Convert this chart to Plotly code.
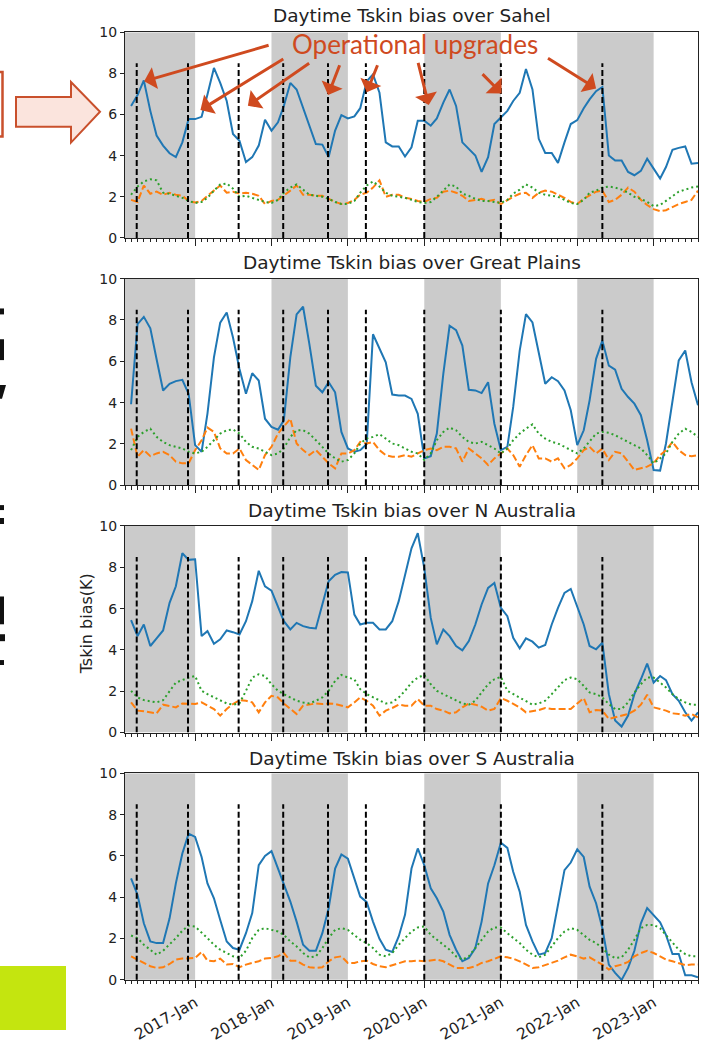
import plotly.graph_objects as go
import pandas as pd

# ---------------- data ----------------
dates = pd.date_range("2016-03-01", periods=90, freq="MS")
regions = ["Sahel", "Great Plains", "N Australia", "S Australia"]

sahel_blue = [6.42, 6.95, 7.66, 6.18, 4.98, 4.49, 4.12, 3.93, 4.65, 5.78,
              5.78, 5.89, 6.98, 8.27, 7.54, 6.66, 5.06, 4.73, 3.69, 3.93,
              4.49, 5.75, 5.22, 5.62, 6.42, 7.54, 7.22, 6.34, 5.46, 4.57,
              4.54, 3.93, 5.22, 5.97, 5.81, 5.91, 6.31, 7.62, 7.95, 7.06,
              4.65, 4.45, 4.45, 3.96, 4.41, 5.70, 5.70, 5.46, 5.81, 6.58,
              7.22, 6.42, 4.65, 4.33, 4.01, 3.21, 3.93, 5.54, 5.86, 6.18,
              6.66, 7.06, 8.22, 7.22, 4.82, 4.13, 4.13, 3.65, 4.65, 5.54,
              5.73, 6.31, 6.74, 7.14, 7.34, 4.01, 3.76, 3.76, 3.21, 3.05,
              3.26, 3.85, 3.37, 2.89, 3.45, 4.29, 4.38, 4.45, 3.61, 3.65]
sahel_orange = [1.85, 1.75, 2.55, 2.15, 2.25, 2.10, 2.20, 2.10, 2.05, 1.80,
                1.72, 1.80, 2.05, 2.30, 2.55, 2.20, 2.25, 2.15, 2.20, 2.15,
                2.05, 1.65, 1.80, 1.85, 2.05, 2.30, 2.55, 2.10, 2.10, 2.05,
                2.05, 1.90, 1.75, 1.65, 1.70, 1.85, 2.10, 2.20, 2.45, 2.80,
                2.00, 2.10, 2.10, 1.95, 1.90, 1.80, 1.75, 1.90, 1.95, 2.25,
                2.30, 2.20, 2.05, 1.80, 1.85, 1.90, 1.80, 1.85, 1.65, 1.85,
                2.00, 2.15, 2.20, 1.95, 2.20, 2.30, 2.25, 2.10, 1.95, 1.75,
                1.65, 1.90, 2.05, 2.25, 2.30, 1.75, 1.85, 2.10, 2.45, 2.25,
                1.85, 1.60, 1.40, 1.30, 1.35, 1.50, 1.65, 1.75, 1.85, 2.30]
sahel_green = [2.10, 2.50, 2.75, 2.85, 2.80, 2.20, 2.15, 2.05, 1.95, 1.80,
               1.70, 1.75, 1.95, 2.30, 2.60, 2.65, 2.40, 2.00, 2.05, 1.95,
               1.85, 1.75, 1.70, 1.85, 2.20, 2.45, 2.60, 2.35, 2.10, 2.05,
               2.00, 1.90, 1.75, 1.65, 1.65, 1.80, 2.20, 2.55, 2.75, 2.50,
               2.20, 2.05, 2.00, 1.95, 1.85, 1.75, 1.70, 1.75, 2.00, 2.30,
               2.60, 2.50, 2.15, 2.05, 1.90, 1.80, 1.80, 1.75, 1.70, 1.85,
               2.15, 2.35, 2.60, 2.45, 2.20, 2.10, 2.05, 2.00, 1.85, 1.70,
               1.65, 1.85, 2.20, 2.30, 2.45, 2.50, 2.45, 2.35, 2.20, 2.00,
               1.90, 1.75, 1.55, 1.60, 1.80, 2.05, 2.25, 2.35, 2.45, 2.50]

gp_blue = [3.92, 7.80, 8.15, 7.60, 6.10, 4.59, 4.91, 5.04, 5.10, 4.43,
           1.94, 1.62, 3.47, 6.19, 7.87, 8.36, 7.15, 5.63, 4.43, 5.42,
           5.07, 3.22, 2.82, 2.69, 3.14, 6.20, 8.27, 8.64, 6.83, 4.82,
           4.50, 4.99, 4.50, 2.58, 1.78, 1.62, 1.70, 2.00, 7.31, 6.59,
           5.95, 4.39, 4.34, 4.34, 4.18, 3.46, 1.30, 1.41, 2.50, 5.39,
           7.72, 7.51, 6.76, 4.62, 4.59, 4.46, 4.99, 2.98, 1.70, 1.86,
           3.79, 6.52, 8.28, 7.88, 6.36, 4.91, 5.23, 5.04, 4.59, 3.63,
           1.94, 2.66, 4.11, 6.12, 7.00, 5.79, 5.59, 4.67, 4.27, 3.95,
           3.39, 2.18, 0.74, 0.71, 2.02, 4.11, 6.04, 6.52, 4.99, 3.87]
gp_orange = [2.74, 1.38, 1.70, 1.41, 1.54, 1.62, 1.46, 1.14, 1.06, 1.06,
             1.70, 2.18, 2.79, 2.58, 1.78, 1.54, 1.54, 1.78, 1.22, 0.98,
             0.74, 1.46, 1.86, 2.50, 2.82, 3.22, 2.02, 1.70, 1.46, 1.70,
             1.38, 1.06, 0.82, 1.54, 1.54, 1.70, 2.10, 2.02, 2.10, 1.70,
             1.46, 1.38, 1.38, 1.46, 1.38, 1.54, 1.70, 1.78, 1.70, 1.86,
             1.86, 1.78, 1.14, 1.78, 1.54, 1.30, 0.98, 1.30, 1.54, 1.78,
             1.46, 0.90, 1.46, 1.94, 1.30, 1.30, 1.14, 1.30, 0.82, 0.98,
             1.30, 1.70, 1.86, 1.54, 1.78, 1.22, 1.62, 1.54, 1.14, 0.74,
             0.82, 0.90, 1.06, 1.46, 1.70, 2.10, 1.70, 1.46, 1.41, 1.46]
gp_green = [1.70, 2.34, 2.58, 2.74, 2.34, 2.10, 1.94, 1.86, 1.78, 1.62,
            1.54, 1.62, 1.86, 2.18, 2.50, 2.66, 2.70, 2.50, 2.10, 1.86,
            1.78, 1.62, 1.46, 1.54, 1.78, 2.34, 2.66, 2.66, 2.50, 2.18,
            1.86, 1.54, 1.30, 1.14, 1.22, 1.54, 2.02, 2.26, 2.34, 2.47,
            2.26, 2.02, 1.94, 1.78, 1.62, 1.54, 1.22, 1.54, 2.18, 2.58,
            2.79, 2.66, 2.34, 2.10, 2.02, 2.10, 1.94, 1.78, 1.54, 1.78,
            2.18, 2.50, 2.74, 2.95, 2.50, 2.26, 2.10, 2.02, 1.86, 1.70,
            1.54, 1.78, 2.10, 2.50, 2.58, 2.54, 2.42, 2.26, 2.10, 1.94,
            1.78, 1.46, 1.06, 1.30, 1.54, 2.10, 2.50, 2.74, 2.58, 2.34]

na_blue = [5.44, 4.67, 5.23, 4.19, 4.56, 4.94, 6.28, 7.08, 8.68, 8.36,
           8.39, 4.67, 4.91, 4.30, 4.51, 4.94, 4.86, 4.75, 5.39, 6.36,
           7.83, 7.08, 6.87, 6.12, 5.39, 4.99, 5.31, 5.15, 5.07, 5.04,
           6.20, 7.32, 7.64, 7.77, 7.75, 5.71, 5.23, 5.31, 5.31, 4.99,
           4.99, 5.39, 6.36, 7.56, 8.92, 9.65, 7.96, 5.55, 4.27, 4.99,
           4.67, 4.19, 3.98, 4.43, 5.23, 6.20, 7.00, 7.24, 6.04, 5.63,
           4.59, 4.08, 4.56, 4.40, 4.11, 4.24, 5.23, 6.04, 6.76, 6.95,
           6.12, 5.23, 4.19, 4.03, 4.35, 1.86, 0.58, 0.29, 0.82, 1.86,
           2.58, 3.34, 2.42, 2.74, 2.54, 1.86, 1.54, 0.98, 0.58, 0.98]
na_orange = [1.46, 1.06, 1.03, 0.98, 0.93, 1.35, 1.30, 1.22, 1.41, 1.38,
             1.38, 1.46, 1.30, 1.14, 0.82, 1.14, 1.38, 1.57, 1.54, 1.46,
             0.98, 1.46, 1.78, 1.70, 1.41, 1.14, 0.90, 1.30, 1.35, 1.41,
             1.38, 1.41, 1.38, 1.30, 1.22, 1.46, 1.70, 1.54, 1.30, 0.82,
             1.06, 1.19, 1.35, 1.30, 1.30, 1.62, 1.30, 1.30, 1.14, 1.06,
             0.93, 0.98, 1.22, 1.41, 1.35, 1.25, 1.06, 1.14, 1.67, 1.54,
             1.38, 1.22, 0.98, 1.03, 1.09, 1.19, 1.14, 1.14, 1.14, 1.14,
             1.41, 1.67, 0.98, 1.09, 1.06, 0.66, 0.74, 0.82, 0.90, 1.06,
             1.35, 1.83, 1.22, 1.14, 1.06, 0.93, 0.90, 0.82, 0.90, 0.74]
na_green = [2.02, 1.70, 1.57, 1.51, 1.46, 1.57, 2.02, 2.42, 2.54, 2.66,
            2.74, 2.02, 1.86, 1.70, 1.54, 1.41, 1.35, 1.41, 2.02, 2.66,
            2.82, 2.74, 2.34, 2.02, 1.86, 1.70, 1.54, 1.46, 1.41, 1.54,
            1.70, 2.02, 2.50, 2.79, 2.66, 2.58, 2.10, 1.86, 1.70, 1.54,
            1.41, 1.46, 1.70, 2.02, 2.42, 2.66, 2.79, 2.34, 2.02, 1.86,
            1.70, 1.54, 1.41, 1.35, 1.54, 1.94, 2.34, 2.58, 2.70, 2.02,
            1.86, 1.70, 1.54, 1.35, 1.41, 1.54, 1.86, 2.18, 2.54, 2.66,
            2.58, 2.26, 1.94, 1.86, 1.70, 1.38, 1.14, 1.14, 1.46, 1.94,
            2.34, 2.66, 2.66, 2.42, 2.18, 1.86, 1.62, 1.46, 1.35, 1.35]

sa_blue = [4.91, 4.11, 2.74, 1.86, 1.78, 1.78, 2.98, 4.67, 6.12, 7.08,
           6.92, 5.95, 4.67, 3.95, 2.90, 1.86, 1.54, 1.46, 2.26, 3.23,
           5.55, 6.00, 6.23, 5.39, 4.67, 3.79, 2.82, 1.70, 1.41, 1.41,
           2.26, 3.47, 5.39, 6.07, 5.87, 4.91, 4.03, 3.76, 2.82, 1.99,
           1.46, 1.35, 2.10, 3.15, 5.39, 6.36, 5.55, 4.43, 3.95, 3.31,
           2.18, 1.46, 0.90, 1.06, 1.54, 2.82, 4.67, 5.55, 6.64, 6.39,
           5.23, 4.27, 2.66, 1.86, 1.22, 1.30, 2.02, 3.63, 5.31, 5.68,
           6.32, 5.95, 4.51, 3.71, 2.50, 0.74, 0.34, 0.00, 0.58, 1.41,
           2.74, 3.47, 3.15, 2.79, 2.18, 1.25, 1.25, 0.22, 0.22, 0.13]
sa_orange = [1.14, 0.98, 0.82, 0.66, 0.58, 0.61, 0.77, 0.98, 1.03, 1.03,
             1.06, 1.35, 0.93, 0.90, 1.03, 0.74, 0.77, 0.61, 0.74, 0.82,
             0.90, 1.03, 1.06, 1.14, 1.30, 0.93, 0.93, 0.74, 0.61, 0.58,
             0.61, 0.90, 1.09, 1.14, 0.82, 0.82, 0.90, 0.93, 0.77, 0.66,
             0.61, 0.71, 0.82, 0.90, 0.90, 0.93, 0.90, 0.93, 0.98, 0.90,
             0.74, 0.58, 0.58, 0.58, 0.66, 0.82, 0.90, 1.03, 1.14, 1.09,
             1.03, 0.90, 0.74, 0.58, 0.61, 0.71, 0.82, 0.93, 1.09, 1.22,
             1.14, 1.03, 1.09, 0.93, 0.74, 0.50, 0.66, 0.74, 0.87, 1.14,
             1.30, 1.41, 1.30, 1.14, 0.98, 0.90, 0.82, 0.71, 0.74, 0.74]
sa_green = [2.15, 2.02, 1.70, 1.46, 1.22, 1.41, 1.70, 2.02, 2.38, 2.63,
            2.58, 2.31, 2.02, 1.70, 1.46, 1.30, 1.14, 1.06, 1.41, 2.02,
            2.42, 2.50, 2.42, 2.34, 2.18, 1.86, 1.62, 1.30, 1.09, 1.14,
            1.54, 2.02, 2.42, 2.50, 2.42, 2.18, 1.94, 1.78, 1.54, 1.22,
            1.14, 1.30, 1.70, 2.02, 2.34, 2.54, 2.58, 2.18, 1.94, 1.70,
            1.46, 1.14, 0.98, 1.14, 1.54, 1.94, 2.34, 2.54, 2.54, 2.26,
            2.02, 1.78, 1.46, 1.22, 1.09, 1.22, 1.62, 2.02, 2.34, 2.50,
            2.42, 2.18, 1.94, 1.78, 1.54, 1.22, 1.06, 1.09, 1.46, 1.94,
            2.50, 2.66, 2.66, 2.50, 2.18, 1.78, 1.46, 1.25, 1.14, 1.14]

blue_series = [sahel_blue, gp_blue, na_blue, sa_blue]
orange_series = [sahel_orange, gp_orange, na_orange, sa_orange]
green_series = [sahel_green, gp_green, na_green, sa_green]

upgrade_dates = ["2016-03-28", "2016-11-28", "2017-07-28", "2018-02-26",
                 "2018-09-28", "2019-03-28", "2020-01-01", "2021-01-01",
                 "2022-05-01"]
upgrade_top = 8.5
shaded_periods = [("2016-02-01", "2017-01-01"), ("2018-01-01", "2019-01-01"),
                  ("2020-01-01", "2021-01-01"), ("2022-01-01", "2023-01-01")]
x_range = ["2016-02-01", "2023-08-01"]
y_ticks = [0, 2, 4, 6, 8, 10]

# ---------------- layout helpers ----------------
W, H = 704, 1044
# the captured page shows the figure slightly inset vertically; target
# positions (in picture pixels) are mapped back to figure pixels here
V_OFF, V_SC = 7.5, 0.9856

def px(x):
    return x / W
def py(y):
    return 1 - ((y - V_OFF) / V_SC) / H

X0, X1 = 125, 698
tops = [32, 280, 529, 778]
bottoms = [239, 488, 737, 986]
title_y = [15, 264, 513, 763]

BLUE, ORANGE, GREEN = "#1f77b4", "#ff7f0e", "#2ca02c"
RED = "#cf4a1f"

fig = go.Figure()
layout = dict(
    width=W, height=H,
    margin=dict(l=0, r=0, t=0, b=0),
    paper_bgcolor="white", plot_bgcolor="white",
    showlegend=False,
    font=dict(family="DejaVu Sans", color="#222"),
)
shapes = []
annotations = []

for i in range(4):
    n = i + 1
    xa = "x" if n == 1 else f"x{n}"
    ya = "y" if n == 1 else f"y{n}"
    layout[f"xaxis{'' if n == 1 else n}"] = dict(
        domain=[px(X0), px(X1)], anchor=ya, type="date", range=x_range,
        tickmode="linear", tick0="2017-01-01", dtick="M12",
        ticks="outside", ticklen=7, tickwidth=1, tickcolor="#222",
        tickformat="%Y-%b", tickangle=-30,
        tickfont=dict(size=15.5, color="#222"),
        showticklabels=(n == 4),
        minor=dict(ticks="outside", ticklen=3.5, dtick="M1",
                   tick0="2016-02-01", tickcolor="#222", showgrid=False),
        showgrid=False, zeroline=False,
        showline=True, mirror=True, linecolor="#222", linewidth=1,
    )
    layout[f"yaxis{'' if n == 1 else n}"] = dict(
        domain=[py(bottoms[i]), py(tops[i])], anchor=xa, range=[0, 10],
        tickmode="array", tickvals=y_ticks,
        ticks="outside", ticklen=4, tickcolor="#222",
        tickfont=dict(size=14, color="#222"),
        showgrid=False, zeroline=False,
        showline=True, mirror=True, linecolor="#222", linewidth=1,
    )
    for (a, b) in shaded_periods:
        shapes.append(dict(type="rect", xref=xa, yref=ya, x0=a, x1=b, y0=0, y1=10,
                           fillcolor="#cbcbcb", line=dict(width=0), layer="below"))
    fig.add_trace(go.Scatter(x=dates, y=blue_series[i], mode="lines",
                             line=dict(color=BLUE, width=2), xaxis=xa, yaxis=ya))
    fig.add_trace(go.Scatter(x=dates, y=orange_series[i], mode="lines",
                             line=dict(color=ORANGE, width=2, dash="7px,3px"),
                             xaxis=xa, yaxis=ya))
    fig.add_trace(go.Scatter(x=dates, y=green_series[i], mode="lines",
                             line=dict(color=GREEN, width=2, dash="2px,3px"),
                             xaxis=xa, yaxis=ya))
    for d in upgrade_dates:
        shapes.append(dict(type="line", xref=xa, yref=ya, x0=d, x1=d, y0=0,
                           y1=upgrade_top, line=dict(color="black", width=2,
                                                     dash="6px,3px"),
                           layer="above"))
    annotations.append(dict(
        text=f"Daytime Tskin bias over {regions[i]}", xref="paper", yref="paper",
        x=px((X0 + X1) / 2), y=py(title_y[i]), xanchor="center", yanchor="middle",
        showarrow=False, font=dict(size=18.5, color="#222", family="DejaVu Sans")))

annotations.append(dict(text="Tskin bias(K)", xref="paper", yref="paper",
                        x=px(86), y=py(628), textangle=-90, showarrow=False,
                        xanchor="center", yanchor="middle",
                        font=dict(size=16, color="#222")))

def mdate(m):
    base = pd.Timestamp("2016-03-01")
    whole = int(m)
    frac = m - whole
    d = base + pd.DateOffset(months=whole) + pd.Timedelta(days=frac * 30.44)
    return d.strftime("%Y-%m-%d %H:%M")

annotations.append(dict(text="Operational upgrades", xref="paper", yref="paper",
                        x=px(415), y=py(44), showarrow=False, xanchor="center",
                        yanchor="middle",
                        font=dict(size=26, color=RED, family="Lato")))
arrows = [((21.8, 9.39), (2.05, 7.62)), ((24.15, 8.75), (10.84, 6.22)),
          ((28.2, 8.55), (18.3, 6.43)), ((32.8, 8.47), (30.9, 6.95)),
          ((38.8, 8.47), (37.0, 7.08)), ((45.0, 8.59), (46.7, 6.46)),
          ((54.9, 8.04), (58.1, 7.03)), ((65.2, 8.79), (73.0, 7.27))]
for (tm, tv), (hm, hv) in arrows:
    annotations.append(dict(text="", xref="x", yref="y", axref="x", ayref="y",
                            x=mdate(hm), y=hv, ax=mdate(tm), ay=tv,
                            showarrow=True, arrowhead=1, arrowsize=1.25,
                            arrowwidth=3, arrowcolor=RED, standoff=0))

def P(x, y):
    return f"{px(x):.5f},{py(y):.5f}"

shapes.append(dict(type="rect", xref="paper", yref="paper",
                   x0=px(-10), x1=px(2.5), y0=py(137), y1=py(72),
                   line=dict(color="#c9502c", width=2.5), fillcolor="rgba(0,0,0,0)"))
arrow_path = ("M " + P(16, 97) + " L " + P(71, 97) + " L " + P(71, 82) + " L " +
              P(100, 112) + " L " + P(71, 143) + " L " + P(71, 127) + " L " +
              P(16, 127) + " Z")
shapes.append(dict(type="path", xref="paper", yref="paper", path=arrow_path,
                   fillcolor="#fbe4dd", line=dict(color="#c9502c", width=2)))
shapes.append(dict(type="rect", xref="paper", yref="paper",
                   x0=0, x1=px(66), y0=0, y1=py(972),
                   fillcolor="#c4e50f", line=dict(width=0)))
for (a, b, c, d) in [(0, 4, 310, 316), (0, 4, 341, 362), (0, 4, 508, 513),
                     (0, 4, 521, 527), (0, 4, 600, 628), (0, 5, 638, 645),
                     (0, 4, 664, 669)]:
    shapes.append(dict(type="rect", xref="paper", yref="paper",
                       x0=px(a), x1=px(b), y0=py(d), y1=py(c),
                       fillcolor="#111", line=dict(width=0)))
shapes.append(dict(type="path", xref="paper", yref="paper",
                   path="M " + P(0, 387) + " L " + P(6, 387) + " L " + P(2, 401) +
                   " L " + P(0, 401) + " Z", fillcolor="#111", line=dict(width=0)))

layout["shapes"] = shapes
layout["annotations"] = annotations
fig.update_layout(**layout)
fig.write_html(
    "out.html",
    config={"displayModeBar": False, "staticPlot": True},
    post_script=("document.documentElement.style.margin='0';"
                 "document.documentElement.style.padding='0';"
                 "document.documentElement.style.overflow='hidden';"
                 "document.body.style.margin='0';"
                 "document.body.style.padding='0';"
                 "document.body.style.overflow='hidden';"
                 "window.scrollTo(0,0);"))
